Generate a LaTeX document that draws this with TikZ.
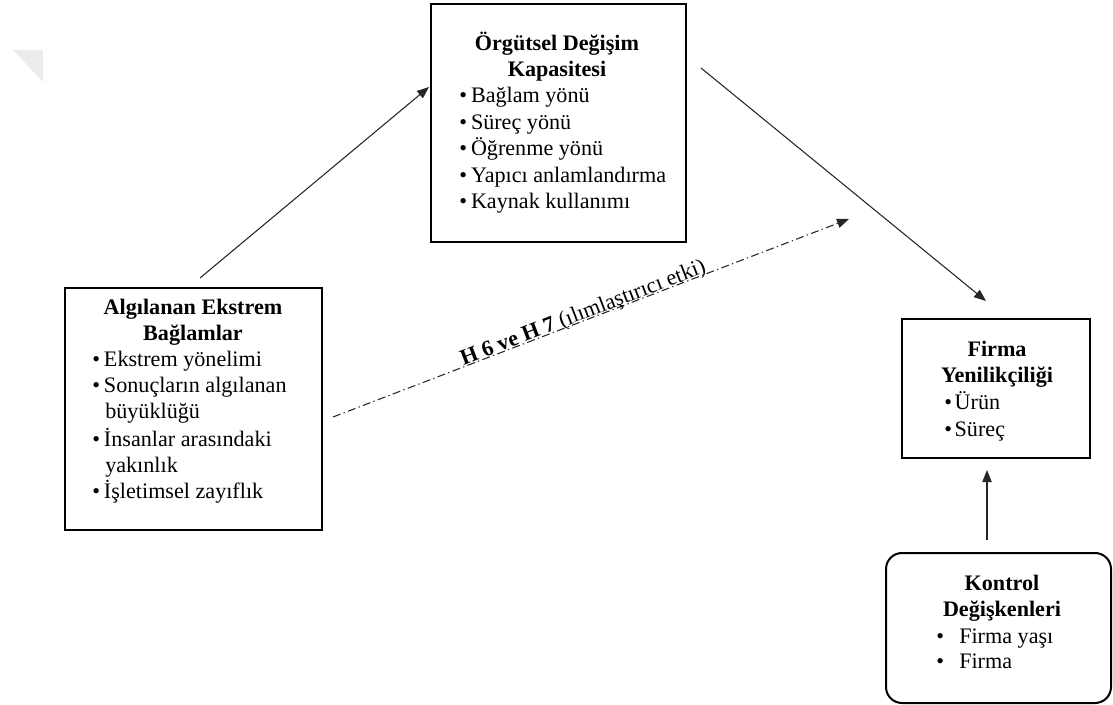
\documentclass[tikz,border=0pt]{standalone}
\usepackage{fontspec}
\setmainfont{Liberation Serif}
\usetikzlibrary{arrows.meta,fit,calc}
\begin{document}
\begin{tikzpicture}[x=0.75pt,y=-0.75pt,
 box/.style={draw,line width=1.5pt,inner sep=0pt},
 rbox/.style={draw,line width=1.5pt,inner sep=0pt,rounded corners=12pt},
 txt/.style={inner sep=0pt,anchor=base west,font=\fontsize{16.6}{20}\selectfont},
 ttl/.style={inner sep=0pt,anchor=base,font=\fontsize{16.6}{20}\selectfont\bfseries},
 arr/.style={draw=black!85,line width=0.8pt,-{Triangle[length=9pt,width=7pt]}},
 dasharr/.style={draw=black!85,line width=0.8pt,dash pattern=on 6pt off 2.5pt on 1pt off 2.5pt,-{Triangle[length=9pt,width=7pt]}},
 lbl/.style={inner sep=0pt,font=\fontsize{16.6}{20}\selectfont},
]
\useasboundingbox (0,0) rectangle (1113,705);
% faint corner mark
\fill[gray!15] (13,50) -- (43,50) -- (43,82) -- cycle;

% boxes
\node[box,fit={(431,4) (686,242)}] (ocap) {};
\node[box,fit={(65,288) (322,530)}] (alg) {};
\node[box,fit={(902,319) (1090,458)}] (firm) {};
\node[rbox,fit={(886,553) (1111,703)}] (kont) {};

% Orgutsel Degisim Kapasitesi
\node[ttl] (o1) at (557,51) {Örgütsel Değişim};
\node[ttl] (o2) at (557,77) {Kapasitesi};
\node[txt] (o3) at (459,103) {\textbullet\hspace{3pt}Bağlam yönü};
\node[txt] (o4) at (459,129.5) {\textbullet\hspace{3pt}Süreç yönü};
\node[txt] (o5) at (459,156) {\textbullet\hspace{3pt}Öğrenme yönü};
\node[txt] (o6) at (459,182.5) {\textbullet\hspace{3pt}Yapıcı anlamlandırma};
\node[txt] (o7) at (459,209) {\textbullet\hspace{3pt}Kaynak kullanımı};

% Algilanan Ekstrem Baglamlar
\node[ttl] (g1) at (193,315) {Algılanan Ekstrem};
\node[ttl] (g2) at (193,341) {Bağlamlar};
\node[txt] (g3) at (92,367) {\textbullet\hspace{3pt}Ekstrem yönelimi};
\node[txt] (g4) at (92,393) {\textbullet\hspace{3pt}Sonuçların algılanan};
\node[txt] (g5) at (105,419) {büyüklüğü};
\node[txt] (g6) at (92,446) {\textbullet\hspace{3pt}İnsanlar arasındaki};
\node[txt] (g7) at (105,472) {yakınlık};
\node[txt] (g8) at (92,498) {\textbullet\hspace{3pt}İşletimsel zayıflık};

% Firma Yenilikciligi
\node[ttl] (f1) at (997,357) {Firma};
\node[ttl] (f2) at (997,383) {Yenilikçiliği};
\node[txt] (f3) at (944,410) {\textbullet\hspace{2pt}Ürün};
\node[txt] (f4) at (944,436) {\textbullet\hspace{2pt}Süreç};

% Kontrol Degiskenleri
\node[ttl] (k1) at (1002,590) {Kontrol};
\node[ttl] (k2) at (1002,616) {Değişkenleri};
\node[txt] (k3) at (936,643) {\textbullet};
\node[txt] (k4) at (959,643) {Firma yaşı};
\node[txt] (k5) at (936,668) {\textbullet};
\node[txt] (k6) at (959,668) {Firma};

% connectors
\coordinate (a1s) at (200,278);
\coordinate (a1e) at (429,87);
\coordinate (a2s) at (701,68);
\coordinate (a2e) at (986,301);
\coordinate (a3s) at (987,540);
\coordinate (a3e) at (987,470);
\coordinate (ds) at (333,417);
\coordinate (de) at (849,219);

\draw[arr] (a1s) -- (a1e);
\draw[arr] (a2s) -- (a2e);
\draw[arr] (a3s) -- (a3e);
\draw[dasharr] (ds) -- (de);
\path (ds) -- (de) node[lbl,pos=0.49,sloped,anchor=base,yshift=1pt] (hlab) {\textbf{H 6 ve H 7} (ılımlaştırıcı etki)};
\end{tikzpicture}
\end{document}
